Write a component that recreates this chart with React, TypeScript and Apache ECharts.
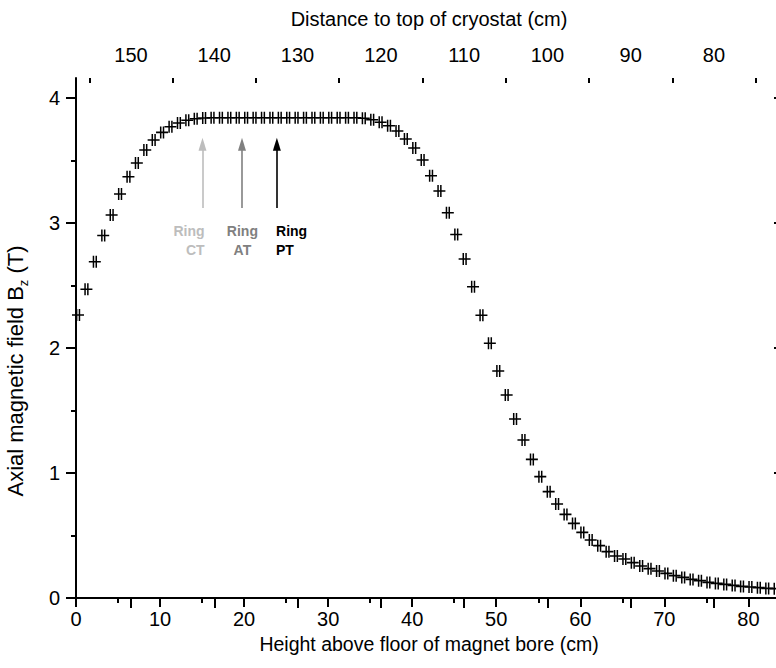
import React, { useEffect, useRef } from "react";
import * as echarts from "echarts";

// Height above floor of magnet bore (cm)
const heightCm = [
  0, 1, 2, 3, 4, 5, 6, 7, 8, 9, 10, 11, 12, 13, 14, 15, 16, 17, 18, 19, 20,
  21, 22, 23, 24, 25, 26, 27, 28, 29, 30, 31, 32, 33, 34, 35, 36, 37, 38, 39, 40,
  41, 42, 43, 44, 45, 46, 47, 48, 49, 50, 51, 52, 53, 54, 55, 56, 57, 58, 59, 60,
  61, 62, 63, 64, 65, 66, 67, 68, 69, 70, 71, 72, 73, 74, 75, 76, 77, 78, 79, 80,
  81, 82, 83, 84,
];
// Axial magnetic field Bz (T)
const fieldT = [
  2.264, 2.47, 2.69, 2.9, 3.064, 3.232, 3.37, 3.48, 3.584, 3.664, 3.725,
  3.77, 3.8, 3.822, 3.834, 3.84, 3.842, 3.842, 3.842, 3.842, 3.842,
  3.842, 3.842, 3.842, 3.842, 3.842, 3.842, 3.842, 3.842, 3.842, 3.842,
  3.842, 3.842, 3.842, 3.838, 3.826, 3.806, 3.778, 3.736, 3.672, 3.6,
  3.504, 3.378, 3.256, 3.082, 2.908, 2.712, 2.49, 2.262, 2.038, 1.816,
  1.624, 1.432, 1.264, 1.109, 0.971, 0.851, 0.752, 0.669, 0.597, 0.525,
  0.464, 0.419, 0.371, 0.336, 0.312, 0.283, 0.256, 0.235, 0.216, 0.197,
  0.179, 0.165, 0.149, 0.139, 0.125, 0.117, 0.109, 0.101, 0.093, 0.088,
  0.083, 0.077, 0.075, 0.071,
];

// Tick values
const bottomMajor = [0, 10, 20, 30, 40, 50, 60, 70, 80];
const bottomMinor = [5, 15, 25, 35, 45, 55, 65, 75];
const topMajor = [80, 90, 100, 110, 120, 130, 140, 150];
const topMinor = [75, 85, 95, 105, 115, 125, 135, 145, 155];
const leftMajor = [0, 1, 2, 3, 4];
const leftMinor = [0.5, 1.5, 2.5, 3.5];

// Ring annotations
const ringNames = ["Ring\nCT", "Ring\nAT", "Ring\nPT"];
const ringX = [15.05, 19.75, 23.9];
const ringLabelX = [15.3, 19.8, 23.8];
const ringColors = ["#bdbdbd", "#808080", "#000000"];
const ringAlign = ["right", "center", "left"];
const arrowFrom = 3.12;
const arrowTo = 3.63;
const ringLabelY = 2.864;

const FONT = "Liberation Sans, Arial, sans-serif";
const SYMBOL =
  "path://M0,5.2h12v1.6h-12z M3.9,0h1.5v12h-1.5z M6.7,0h1.5v12h-1.5z";

export default function App() {
  const ref = useRef<HTMLDivElement>(null);
  useEffect(() => {
    if (!ref.current) return;
    const chart = echarts.init(ref.current, undefined, { renderer: "svg" });
    const axisLine = { show: true, lineStyle: { color: "#000", width: 2 } };
    const gridBox = { left: 76, top: 78, right: -6, bottom: 70, outerBoundsMode: "none", containLabel: false };
    const topMin = 71.83;
    const topMax = 156.6;
    const option: any = {
      animation: false,
      backgroundColor: "#fff",
      textStyle: { fontFamily: FONT },
      grid: [gridBox, { ...gridBox }],
      xAxis: [
        {
          type: "value",
          gridIndex: 0,
          position: "bottom",
          min: 0,
          max: 84,
          axisLine,
          splitLine: { show: false },
          axisTick: { show: true, length: 9, lineStyle: { width: 2, color: "#000" }, customValues: bottomMajor },
          axisLabel: { show: true, customValues: bottomMajor, fontSize: 20, color: "#000", margin: 11, fontFamily: FONT },
          name: "Height above floor of magnet bore (cm)",
          nameLocation: "middle",
          nameGap: 36,
          nameMoveOverlap: false,
          nameTextStyle: { fontSize: 19.5, color: "#000", fontFamily: FONT },
        },
        {
          type: "value",
          gridIndex: 0,
          position: "top",
          min: topMin,
          max: topMax,
          inverse: true,
          axisLine,
          splitLine: { show: false },
          axisTick: { show: true, inside: true, length: 10, lineStyle: { width: 2, color: "#000" }, customValues: topMajor },
          axisLabel: { show: true, customValues: topMajor, fontSize: 20, color: "#000", margin: 13, fontFamily: FONT },
          name: "Distance to top of cryostat (cm)",
          nameLocation: "middle",
          nameGap: 49,
          nameTextStyle: { fontSize: 20, color: "#000", fontFamily: FONT },
        },
        {
          type: "value",
          gridIndex: 1,
          position: "bottom",
          min: 0,
          max: 84,
          axisLine: { show: false },
          splitLine: { show: false },
          axisTick: { show: true, length: 5, lineStyle: { width: 2, color: "#000" }, customValues: bottomMinor },
          axisLabel: { show: false },
        },
        {
          type: "value",
          gridIndex: 1,
          position: "top",
          min: topMin,
          max: topMax,
          inverse: true,
          axisLine: { show: false },
          splitLine: { show: false },
          axisTick: { show: true, inside: true, length: 5, lineStyle: { width: 2, color: "#000" }, customValues: topMinor },
          axisLabel: { show: false },
        },
      ],
      yAxis: [
        {
          type: "value",
          gridIndex: 0,
          position: "left",
          min: 0,
          max: 4.16,
          axisLine,
          splitLine: { show: false },
          axisTick: { show: true, length: 10, lineStyle: { width: 2, color: "#000" }, customValues: leftMajor },
          axisLabel: { show: true, customValues: leftMajor, fontSize: 20, color: "#000", margin: 16, fontFamily: FONT },
          name: "{a|Axial magnetic field B}{s|z}{a| (T)}",
          nameLocation: "middle",
          nameGap: 46,
          nameTextStyle: {
            color: "#000",
            padding: [0, 66, 0, 0],
            rich: {
              a: { fontSize: 22, fontFamily: FONT, color: "#000", lineHeight: 30, verticalAlign: "middle" },
              s: { fontSize: 13, fontFamily: FONT, color: "#000", lineHeight: 30, verticalAlign: "bottom" },
            },
          },
        },
        {
          type: "value",
          gridIndex: 0,
          position: "right",
          min: 0,
          max: 4.16,
          axisLine,
          splitLine: { show: false },
          axisTick: { show: true, inside: true, length: 8, lineStyle: { width: 2, color: "#000" }, customValues: leftMajor },
          axisLabel: { show: false },
        },
        {
          type: "value",
          gridIndex: 1,
          position: "left",
          min: 0,
          max: 4.16,
          axisLine: { show: false },
          splitLine: { show: false },
          axisTick: { show: true, length: 5, lineStyle: { width: 2, color: "#000" }, customValues: leftMinor },
          axisLabel: { show: false },
        },
      ],
      series: [
        {
          type: "scatter",
          name: "Bz",
          xAxisIndex: 0,
          yAxisIndex: 0,
          data: heightCm.map((h, i) => [h, fieldT[i]]),
          symbol: SYMBOL,
          symbolSize: [12, 12],
          symbolOffset: [2, 0],
          itemStyle: { color: "#000", opacity: 1 },
          z: 3,
        },
        {
          type: "scatter",
          name: "rings",
          xAxisIndex: 0,
          yAxisIndex: 0,
          symbolSize: 0,
          itemStyle: { opacity: 1 },
          data: ringNames.map((n, i) => ({
            name: n,
            value: [ringLabelX[i], ringLabelY],
            label: { align: ringAlign[i], color: ringColors[i] },
          })),
          label: {
            show: true,
            position: "inside",
            formatter: "{b}",
            fontSize: 14,
            fontWeight: "bold",
            lineHeight: 19,
            fontFamily: FONT,
            opacity: 1,
          },
          markLine: {
            silent: true,
            symbol: ["none", "triangle"],
            symbolSize: [8, 13],
            label: { show: false },
            data: ringX.map((x, i) => [
              { coord: [x, arrowFrom], lineStyle: { color: ringColors[i], width: 1.6, type: "solid", opacity: 1 } },
              { coord: [x, arrowTo] },
            ]),
          },
        },
      ],
    };
    chart.setOption(option);
    return () => chart.dispose();
  }, []);
  return (
    <div
      ref={ref}
      style={{ position: "absolute", left: 0, top: 0, width: 776, height: 668 }}
    />
  );
}
